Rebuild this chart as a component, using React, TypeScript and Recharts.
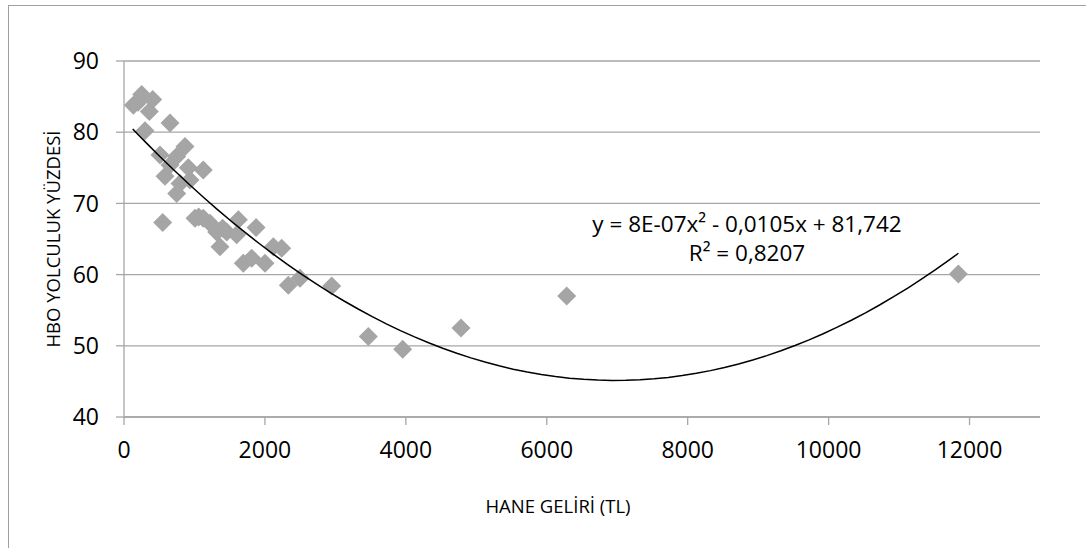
import React from 'react';
import { ScatterChart, Scatter, XAxis, YAxis, CartesianGrid } from 'recharts';

// household income (TL) vs share of home-based trips (%)
const income = [
  132, 251, 407, 359, 298, 200, 653, 866, 511, 748, 1125, 913, 582, 795, 748, 937, 653,
  549, 1008, 1060, 1125, 1221, 1315, 1623, 1457, 1599, 1362, 1400, 1874, 2119, 2238,
  1693, 1812, 2001, 2332, 2498, 2948, 3467, 3955, 4783, 6283, 11842,
];
const hboShare = [
  83.8, 85.3, 84.6, 82.9, 80.2, 84.2, 81.3, 78.0, 76.8, 76.6, 74.7, 75.0, 73.8, 72.8, 71.4, 73.3, 75.4,
  67.3, 67.9, 68.1, 67.9, 67.2, 66.0, 67.7, 66.0, 65.6, 63.9, 66.5, 66.6, 63.9, 63.7,
  61.6, 62.3, 61.6, 58.5, 59.5, 58.4, 51.3, 49.5, 52.5, 57.0, 60.1,
];

const xTicks = [0, 2000, 4000, 6000, 8000, 10000, 12000];
const yTicks = [40, 50, 60, 70, 80, 90];

// polynomial trend (2nd order) as shown on the chart, coefficient a with more digits
const trendCoef = { a: 7.53e-7, b: -0.0105, c: 81.742 };
const trendFrom = 123;
const trendTo = 11842;

const points = income.map((x, i) => ({ x, y: hboShare[i] }));

const trend: { x: number; y: number }[] = [];
for (let x = trendFrom; x <= trendTo; x += 200) {
  trend.push({ x, y: trendCoef.a * x * x + trendCoef.b * x + trendCoef.c });
}
trend.push({ x: trendTo, y: trendCoef.a * trendTo * trendTo + trendCoef.b * trendTo + trendCoef.c });

const FONT = '"Open Sans", sans-serif';
const GRID = '#a6a6a6';

const Diamond = (props: any) => {
  const { cx, cy } = props;
  const r = 9.5;
  return (
    <polygon
      points={`${cx},${cy - r} ${cx + r},${cy} ${cx},${cy + r} ${cx - r},${cy}`}
      fill="#a5a5a5"
    />
  );
};

const NoDot = () => <g />;

const App: React.FC = () => {
  return (
    <div style={{ position: 'absolute', left: 8, top: 5, width: 1078, height: 543, overflow: 'hidden' }}>
      <div
        style={{
          position: 'relative',
          width: 1100,
          height: 560,
          border: '1px solid #a0a0a0',
          background: '#fff',
          fontFamily: FONT,
        }}
      >
        <ScatterChart
          width={1077}
          height={542}
          margin={{ top: 55, right: 46, left: 35, bottom: 71 }}
        >
          <CartesianGrid vertical={false} stroke={GRID} strokeWidth={1.3} />
          <XAxis
            type="number"
            dataKey="x"
            domain={[0, 13000]}
            ticks={xTicks}
            height={60}
            tickSize={8}
            tickMargin={17}
            stroke={GRID}
            strokeWidth={1.3}
            tick={{ fill: '#000', fontSize: 23, fontFamily: FONT }}
            allowDataOverflow
          />
          <YAxis
            type="number"
            dataKey="y"
            domain={[40, 90]}
            ticks={yTicks}
            width={80}
            tickSize={8}
            tickMargin={17}
            stroke={GRID}
            strokeWidth={1.3}
            tick={{ fill: '#000', fontSize: 23, fontFamily: FONT }}
            allowDataOverflow
          />
          <Scatter data={points} shape={Diamond} isAnimationActive={false} />
          <Scatter
            data={trend}
            shape={NoDot}
            line={{ stroke: '#000', strokeWidth: 1.5 }}
            lineType="joint"
            isAnimationActive={false}
          />
        </ScatterChart>

        <div
          style={{
            position: 'absolute',
            left: 44,
            top: 233,
            transform: 'translate(-50%, -50%) rotate(-90deg)',
            fontSize: 18.5,
            lineHeight: 1,
            whiteSpace: 'nowrap',
          }}
        >
          HBO YOLCULUK YÜZDESİ
        </div>
        <div
          style={{
            position: 'absolute',
            left: 549,
            top: 500,
            transform: 'translate(-50%, -50%)',
            fontSize: 18.5,
            lineHeight: 1,
            whiteSpace: 'nowrap',
          }}
        >
          HANE GELİRİ (TL)
        </div>
        <div
          style={{
            position: 'absolute',
            left: 738,
            top: 232,
            transform: 'translate(-50%, -50%)',
            fontSize: 22.5,
            lineHeight: '29px',
            textAlign: 'center',
            whiteSpace: 'nowrap',
          }}
        >
          <div>y = 8E-07x² - 0,0105x + 81,742</div>
          <div>R² = 0,8207</div>
        </div>
      </div>
    </div>
  );
};

export default App;
